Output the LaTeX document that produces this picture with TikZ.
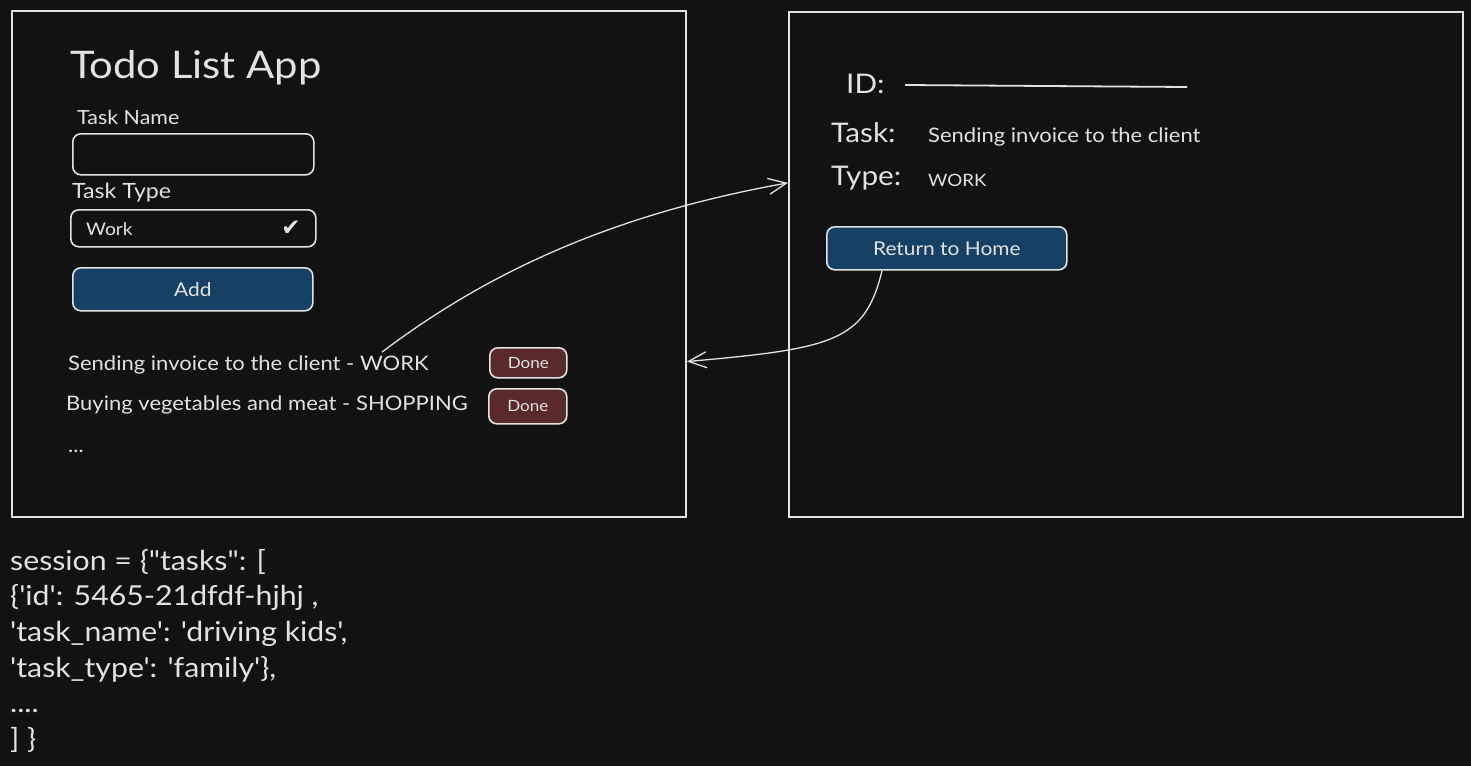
\documentclass[tikz,border=0pt]{standalone}
\usepackage{fontspec}
\setmainfont{Lato}[Ligatures=TeXOff, FakeStretch=1.1]
\newfontfamily\symfont{DejaVu Sans}
\usepackage{xcolor}
\usetikzlibrary{arrows.meta, positioning, calc}

\definecolor{canvas}{HTML}{121212}
\definecolor{ink}{HTML}{E2E2E2}
\definecolor{addblue}{HTML}{174164}
\definecolor{donered}{HTML}{5A2A2B}

\begin{document}
\begin{tikzpicture}[
    x=1pt, y=-1pt,
    frame/.style={
        draw=ink,
        line width=2pt,
        anchor=north west,
        inner sep=0pt
    },
    field/.style={
        draw=ink,
        line width=1.6pt,
        rounded corners=8pt,
        anchor=north west,
        inner sep=0pt
    },
    button/.style={
        field,
        text=ink,
        font=\fontsize{19}{21}\selectfont
    },
    label/.style={anchor=base west, text=ink, inner sep=0pt},
    link/.style={draw=ink, line width=1.3pt, -{Straight Barb[length=18pt, width=16pt]}}
]

\fill[canvas] (0,0) rectangle (1471,766);
\useasboundingbox (0,0) rectangle (1471,766);

% home screen
\node[frame, minimum width=674pt, minimum height=506pt] (home) at (11,10) {};
\node[label, font=\fontsize{38}{40}\selectfont] (title) at (70,78) {Todo List App};
\node[label, font=\fontsize{19.5}{21}\selectfont] (namelabel) at (77,124) {Task Name};
\node[field, minimum width=241pt, minimum height=41pt] (nameinput) at (72,133) {};
\node[label, font=\fontsize{21}{23}\selectfont] (typelabel) at (72,198) {Task Type};
\node[field, minimum width=245pt, minimum height=37pt] (typeselect) at (70,209) {};
\node[label, font=\fontsize{17.5}{20}\selectfont] (typevalue) at (86,235) {Work};
\node[text=ink, font=\symfont\fontsize{23}{25}\selectfont] (typecheck) at (291,228) {✔};
\node[button, fill=addblue, minimum width=240pt, minimum height=43pt] (addbtn) at (72,267) {Add};

\node[label, font=\fontsize{20}{22}\selectfont] (item1) at (68,370) {Sending invoice to the client - WORK};
\node[label, font=\fontsize{20}{22}\selectfont] (item2) at (66,410) {Buying vegetables and meat - SHOPPING};
\node[label, font=\fontsize{20}{22}\selectfont] (more) at (68,452) {...};
\node[button, fill=donered, minimum width=77pt, minimum height=30pt,
      font=\fontsize{15.5}{17}\selectfont] (done1) at (489,347) {Done};
\node[button, fill=donered, minimum width=78pt, minimum height=35pt,
      font=\fontsize{15.5}{17}\selectfont] (done2) at (488,388) {Done};

% detail screen
\node[frame, minimum width=674pt, minimum height=505pt] (detail) at (788,11) {};
\node[label, font=\fontsize{27}{29}\selectfont] (idlabel) at (846,93) {ID:};
\draw[ink, line width=1.8pt] (905,85) -- (1187,87);
\node[label, font=\fontsize{27}{29}\selectfont] (tasklabel) at (831,142) {Task:};
\node[label, font=\fontsize{20}{22}\selectfont] (taskvalue) at (928,142) {Sending invoice to the client};
\node[label, font=\fontsize{27}{29}\selectfont] (kindlabel) at (831,185) {Type:};
\node[label, font=\fontsize{17}{19}\selectfont] (kindvalue) at (928,186) {WORK};
\node[button, fill=addblue, minimum width=240pt, minimum height=43pt] (backbtn) at (826,226) {Return to Home};

% session store
\node[anchor=north west, align=left, text=ink, inner sep=0pt,
      font=\fontsize{27.5}{35.6}\selectfont] (session) at (10,549) {%
session = \{"tasks": [\\
\{'id': 5465-21dfdf-hjhj ,\\
'task\_name': 'driving kids',\\
'task\_type': 'family'\},\\
....\\
] \}};

% navigation
\coordinate (opensrc) at ($(item1.north west)+(314,-3)$);
\coordinate (opendst) at ($(detail.north west)!0.339!(detail.south west)$);
\coordinate (backsrc) at ($(backbtn.south west)+(56,0)$);
\coordinate (backdst) at ($(home.north east)!0.692!(home.south east)$);
\draw[link] (opensrc) .. controls +(98,-74) and +(-185,33) .. (opendst);
\draw[link] (backsrc) .. controls +(-17,71) and +(146,-13) .. (backdst);

\end{tikzpicture}
\end{document}
